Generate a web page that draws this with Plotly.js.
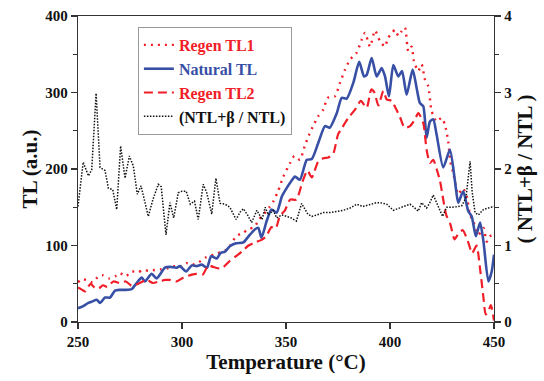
<!DOCTYPE html>
<html>
<head>
<meta charset="utf-8">
<script src="https://cdn.plot.ly/plotly-3.0.1.min.js"></script>
<style>html,body{margin:0;padding:0;background:#fff;}#chart{width:544px;height:381px;}</style>
</head>
<body>
<div id="chart"></div>
<script>
// Natural TL (blue solid)
var natT = [250,252,255,257,259,260.6,263,265.4,267.8,270,272.6,275.8,278.2,280.6,282.2,285.4,287.8,291.8,294.2,297.5,299,302,304.7,307,309.5,312,314,316.7,318.5,320.7,323,326,329.5,332,335,336.7,338.2,340.7,343,345.5,348,350.3,352.5,354.3,356.7,360,362.4,365.5,368.75,371,374.4,376.8,379.2,382.4,385.2,387.5,388.8,391.2,393.6,396,397.6,399.5,401.6,404,405.8,408,410.9,412.8,414.4,416,417.6,419.2,420.8,422.4,425.6,428.8,431.25,432.8,435.2,437.6,439.3,441.3,443.3,444.9,447.3,448.9,450];
var natTL = [18,20,25,27,29,25,32,32,41,42,42,43,51,58,53,63,57,71,72,71,73,66,74,73,75,71,86,83,90,92,99,103,104,112,121,123,110,132,147,143,164,175,184,190,186,212,213,234,256,254,273,293,292,313,340,321,323,345,321,332,321,295,336,321,328,297,330,306,286,282,241,262,265,245,202,225,184,156,171,145,138,112,130,106,53,66,88];

// Regen TL1 (red dotted)
var r1T = [250,252,254,257,260,262,265,268,270,273,276,279,281,284,287,290,293,296,299,302,305,308,311,314,316.5,319,321,323,326,329.5,332,335,337,339,342,344,346.3,348.7,352,354,356.7,359,361,363,365.5,368,370,373.5,376,378.4,380.8,384,386.4,388,390.4,392.8,395.2,397.6,399,401,402.4,404,405.6,407.2,408.8,410.4,411.5,413.6,415.2,416.8,418.4,420,422.4,424.8,426.4,428,429,430.4,432.8,435,436.9,438.5,440,442.5,444.9,446.5,448,450];
var r1TL = [52,56,55,52,60,61,57,60,64,60,66,65,68,67,68,69,70,73,72,77,75,78,84,87,89,92,94,99,112,117,121,125,134,140,150,158,172,190,208,217,212,230,244,256,269,278,293,295,313,330,343,352,369,378,360,381,367,360,371,378,382,374,380,385,354,360,341,328,337,317,308,276,262,267,258,236,210,195,167,175,164,140,132,114,123,105,112,115];

// Regen TL2 (red dashed)
var r2T = [250,252,253.5,256,258,260,262,264,267,270,273,276,279,283,286,289,292,294,297.4,300.6,304.7,307,310,312.6,315,318,320,323,325.5,328.7,332,335,338,340.5,343,345,347,349.5,352,355,358,360.3,362.4,365.5,368,370.3,372.7,375,377,380,383,386,388.8,391,392.5,394.4,396.8,398.4,400.8,403,404.8,407,409.6,412,413.6,416,417.6,419.2,420.8,422.4,424,425.6,427,429,431,433,435,437.5,439.5,441.6,443.5,445,446,447.3,448.5,450];
var r2TL = [45,42,40,50,45,44,48,46,53,51,53,47,50,55,51,53,55,55,53,58,62,63,62,74,72,70,72,80,85,92,100,104,107,112,124,122,138,146,160,160,184,198,189,210,214,215,220,245,254,267,277,289,280,304,300,283,302,291,289,278,268,254,256,265,273,260,225,208,212,200,185,160,140,128,108,116,120,105,90,100,65,30,10,14,22,2];

// Ratio (NTL+beta / NTL) (black dotted, right axis)
var ratT = [250,251,252.5,255,256.6,258.7,260.6,263,264.6,266.7,268.6,270.5,272.6,274.7,276.6,278.5,280.3,283.8,286,288.6,290,292.3,294.2,296,298.2,300,302,304,306,307.8,310.2,311.9,314.3,316.3,318.3,320.7,323,326,328,329.5,331.5,333.5,336,338.5,340,341.5,343.9,345.5,348,350.3,352.5,355,357.5,360.5,362.4,365,368,371,374.4,377.5,380.8,384,387,390.4,393.6,395.2,398.4,401.6,404.8,407,409.6,411.5,413.6,415.2,417.6,419,420.8,423.2,425.3,427.2,430,432.8,434.5,436.5,437.5,438.5,439.5,440.9,442.5,444.9,447.3,450];
var ratV = [1.51,1.73,2.09,1.91,1.99,2.99,2.02,1.98,1.75,1.73,1.47,2.30,1.88,2.17,2.04,1.67,1.78,1.38,1.60,1.80,1.77,1.14,1.56,1.36,1.69,1.71,1.71,1.54,1.58,1.34,1.80,1.69,1.41,1.88,1.55,1.54,1.50,1.34,1.44,1.48,1.40,1.30,1.46,1.34,1.50,1.40,1.46,1.36,1.40,1.38,1.36,1.32,1.55,1.41,1.38,1.40,1.43,1.43,1.45,1.46,1.49,1.54,1.51,1.54,1.56,1.56,1.54,1.46,1.49,1.51,1.54,1.50,1.45,1.56,1.49,1.55,1.66,1.51,1.38,1.50,1.50,1.51,1.52,1.62,1.85,2.10,1.70,1.43,1.40,1.47,1.49,1.51];

var xTicks = [250,300,350,400,450];

var RED = 'rgb(240,30,40)';
var BLUE = 'rgb(55,80,165)';
var FONT = 'Liberation Serif, Times New Roman, serif';

var traces = [
  {x: r1T, y: r1TL, type: 'scatter', mode: 'lines',
   name: '<b><span style="color:' + RED + '">Regen TL1</span></b>',
   line: {color: RED, width: 2.4, dash: '2px,5px', shape: 'spline', smoothing: 0.6}},
  {x: natT, y: natTL, type: 'scatter', mode: 'lines',
   name: '<b><span style="color:' + BLUE + '">Natural TL</span></b>',
   line: {color: BLUE, width: 2.6, shape: 'spline', smoothing: 0.6}},
  {x: r2T, y: r2TL, type: 'scatter', mode: 'lines',
   name: '<b><span style="color:' + RED + '">Regen TL2</span></b>',
   line: {color: RED, width: 2.2, dash: '9px,5px', shape: 'spline', smoothing: 0.6}},
  {x: ratT, y: ratV, type: 'scatter', mode: 'lines', yaxis: 'y2',
   name: '<b>(NTL+β / NTL)</b>',
   line: {color: '#111', width: 1.5, dash: '1.5px,1.5px'}}
];

var axisBase = {
  showgrid: false, zeroline: false, showline: true, linecolor: '#333', linewidth: 1.3,
  ticks: 'outside', ticklen: 6, tickwidth: 1.3, tickcolor: '#333',
  tickfont: {family: FONT, size: 15, color: '#111', weight: 'bold'}
};

var layout = {
  width: 544, height: 381,
  margin: {l: 78, r: 50, t: 16, b: 59},
  paper_bgcolor: '#fff', plot_bgcolor: '#fff',
  showlegend: true,
  legend: {x: 0.144, y: 0.964, xanchor: 'left', yanchor: 'top',
           bgcolor: '#fff', bordercolor: '#999', borderwidth: 1,
           font: {family: FONT, size: 16, color: '#111'}, tracegroupgap: 0},
  xaxis: Object.assign({}, axisBase, {
    range: [250, 450], tickvals: xTicks, ticktext: xTicks.map(String), mirror: true,
    title: {text: '<b>Temperature (°C)</b>', font: {family: FONT, size: 21, color: '#111'}, standoff: 3}
  }),
  yaxis: Object.assign({}, axisBase, {
    range: [0, 400], dtick: 100, tick0: 0,
    minor: {dtick: 50, ticks: 'outside', ticklen: 4, tickcolor: '#333', tickwidth: 1.2},
    title: {text: '<b>TL (a.u.)</b>', font: {family: FONT, size: 21, color: '#111'}, standoff: 2}
  }),
  yaxis2: Object.assign({}, axisBase, {
    range: [0, 4], dtick: 1, tick0: 0, overlaying: 'y', side: 'right',
    minor: {dtick: 0.5, ticks: 'outside', ticklen: 4, tickcolor: '#333', tickwidth: 1.2},
    title: {text: '<b>( NTL+β / NTL )</b>', font: {family: FONT, size: 21, color: '#111'}, standoff: 6}
  })
};

Plotly.newPlot('chart', traces, layout, {displayModeBar: false, staticPlot: true});
</script>
</body>
</html>
